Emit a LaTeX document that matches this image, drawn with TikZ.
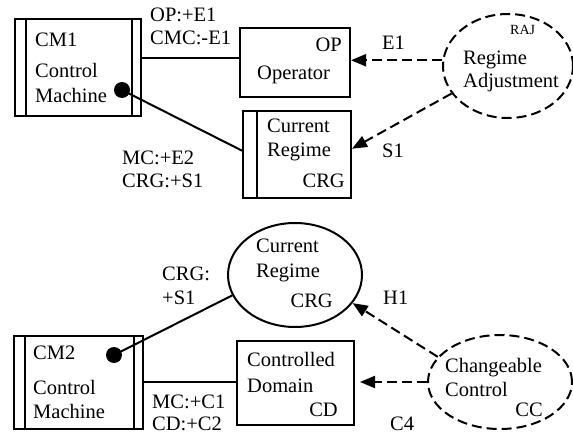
\documentclass[tikz,border=0pt]{standalone}
\usepackage{fontspec}
\setmainfont{Liberation Serif}
\usetikzlibrary{arrows.meta,shapes.geometric,calc}
\begin{document}
\begin{tikzpicture}[x=1pt,y=-1pt,
  txt/.style={inner sep=0pt, font=\fontsize{20.5}{25}\selectfont},
  smalltxt/.style={inner sep=0pt, font=\fontsize{14}{17}\selectfont},
  boxnode/.style={draw, line width=2pt, inner sep=0pt, rectangle},
  ellnode/.style={draw, line width=2pt, inner sep=0pt, ellipse},
  dashell/.style={ellnode, dash pattern=on 10pt off 5pt},
  conn/.style={line width=2pt},
  dconn/.style={line width=2pt, dash pattern=on 10pt off 5pt, -{Triangle[length=15pt,width=12pt]}},
  dotnode/.style={circle, fill=black, inner sep=0pt, minimum size=16pt}
]
\useasboundingbox (0,0) rectangle (573,435);

% ---------- top diagram ----------
\node[boxnode, minimum width=126pt, minimum height=97pt] (cm1) at (78,67.5) {};
\draw[line width=2pt] ([xshift=12pt]cm1.north west) -- ([xshift=12pt]cm1.south west);
\draw[line width=2pt] ([xshift=-10pt]cm1.north east) -- ([xshift=-10pt]cm1.south east);
\node[txt, anchor=base west] (cm1a) at (35,47) {CM1};
\node[txt, anchor=base west] (cm1b) at (35,78) {Control};
\node[txt, anchor=base west] (cm1c) at (35,103) {Machine};
\node[dotnode] (dot1) at (122,90) {};

\node[boxnode, minimum width=110pt, minimum height=69pt] (op) at (295,62.5) {};
\node[txt, anchor=base east] (opa) at (342,52) {OP};
\node[txt, anchor=base west] (opb) at (257,80) {Operator};

\node[boxnode, minimum width=108pt, minimum height=87pt] (crg1) at (297,154.5) {};
\draw[line width=2pt] ([xshift=15pt]crg1.north west) -- ([xshift=15pt]crg1.south west);
\node[txt, anchor=base west] (crg1a) at (267,133) {Current};
\node[txt, anchor=base west] (crg1b) at (267,157) {Regime};
\node[txt, anchor=base east] (crg1c) at (345,188) {CRG};

\node[dashell, minimum width=130pt, minimum height=104pt] (raj) at (508,66) {};
\node[smalltxt, anchor=base west] (raja) at (510,35) {RAJ};
\node[txt, anchor=base west] (rajb) at (463,65) {Regime};
\node[txt, anchor=base west] (rajc) at (463,88) {Adjustment};

\draw[conn] (op.175) -- (op.175 -| cm1.east);
\draw[conn] (dot1.center) -- (crg1.176);
\draw[dconn] (raj.175) -- (raj.175 -| op.east);
\draw[dconn] (raj.206) -- (crg1.6);

\node[txt, anchor=base west] (l1) at (150,22) {OP:+E1};
\node[txt, anchor=base west] (l2) at (150,45) {CMC:-E1};
\node[txt, anchor=base west] (l3) at (122,165) {MC:+E2};
\node[txt, anchor=base west] (l4) at (122,188) {CRG:+S1};
\node[txt, anchor=base west] (l5) at (382,50) {E1};
\node[txt, anchor=base west] (l6) at (382,158) {S1};

% ---------- bottom diagram ----------
\node[ellnode, minimum width=134pt, minimum height=104pt] (crg2) at (295,275) {};
\node[txt, anchor=base west] (crg2a) at (256,253) {Current};
\node[txt, anchor=base west] (crg2b) at (256,278) {Regime};
\node[txt, anchor=base east] (crg2c) at (333,308) {CRG};

\node[boxnode, minimum width=129pt, minimum height=93pt] (cm2) at (78.5,382.5) {};
\draw[line width=2pt] ([xshift=12pt]cm2.north west) -- ([xshift=12pt]cm2.south west);
\draw[line width=2pt] ([xshift=-10pt]cm2.north east) -- ([xshift=-10pt]cm2.south east);
\node[txt, anchor=base west] (cm2a) at (33,360) {CM2};
\node[txt, anchor=base west] (cm2b) at (33,395) {Control};
\node[txt, anchor=base west] (cm2c) at (33,418) {Machine};
\node[dotnode] (dot2) at (114,355) {};

\node[boxnode, minimum width=117pt, minimum height=84pt] (cd) at (295.5,383) {};
\node[txt, anchor=base west] (cda) at (247,367) {Controlled};
\node[txt, anchor=base west] (cdb) at (247,392) {Domain};
\node[txt, anchor=base east] (cdc) at (338,417) {CD};

\node[dashell, minimum width=144pt, minimum height=94pt] (cc) at (500,382) {};
\node[txt, anchor=base west] (cca) at (445,373) {Changeable};
\node[txt, anchor=base west] (ccb) at (445,397) {Control};
\node[txt, anchor=base east] (ccc) at (543,417) {CC};

\draw[conn] (dot2.center) -- (crg2.198);
\draw[conn] (cm2.east) -- (cm2.east -| cd.west);
\draw[dconn] (cc.158) -- (crg2.334);
\draw[dconn, shorten >=5pt] (cc.west) -- (cc.west -| cd.east);

\node[txt, anchor=base west] (m1) at (162,281) {CRG:};
\node[txt, anchor=base west] (m2) at (162,305) {+S1};
\node[txt, anchor=base west] (m3) at (152,409) {MC:+C1};
\node[txt, anchor=base west] (m4) at (152,431) {CD:+C2};
\node[txt, anchor=base west] (m5) at (383,305) {H1};
\node[txt, anchor=base west] (m6) at (390,431) {C4};
\end{tikzpicture}
\end{document}
